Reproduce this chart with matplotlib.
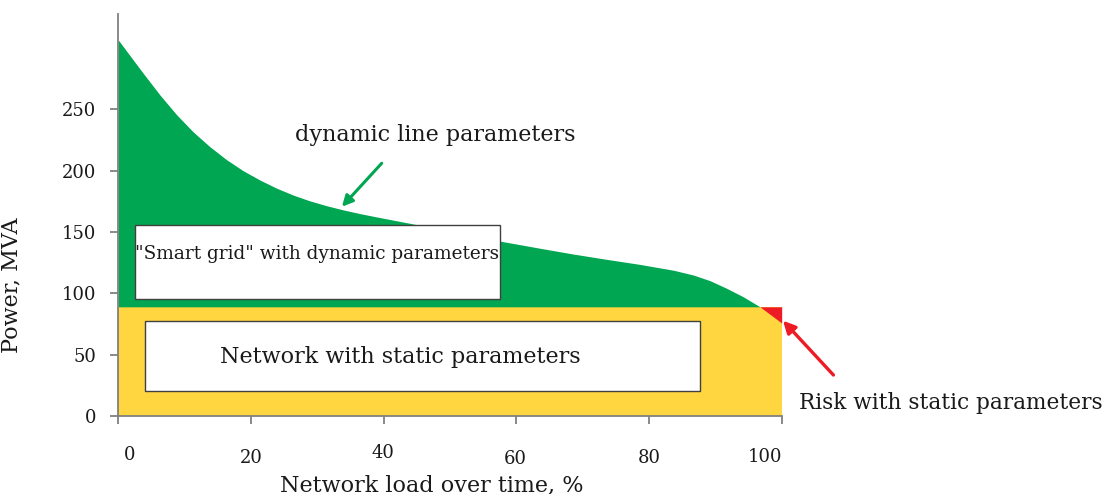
import numpy as np
import matplotlib
matplotlib.use("Agg")
import matplotlib.pyplot as plt
from matplotlib.patches import Rectangle
from matplotlib.transforms import ScaledTranslation

# ---- data ----
load_pct = [0, 1.3, 3.8, 6.3, 8.8, 11.3, 13.8, 16.3, 18.8, 21.4, 23.9, 26.4,
            28.9, 31.4, 33.9, 36.4, 38.9, 41.5, 44.0, 50.8, 57.5, 63.6,
            68.6, 73.6, 78.6, 83.7, 86.7, 89.2, 91.7, 94.2, 96.7, 100]
dyn_power = [306.5, 297.0, 279.0, 261.5, 245.5, 231.5, 219.5, 209.0, 200.0,
             192.2, 185.6, 180.0, 175.3, 171.4, 168.0, 165.0, 162.3, 159.6,
             157.0, 149.5, 142.6, 136.7, 132.0, 127.7, 123.6, 118.8, 114.9,
             110.3, 104.1, 97.2, 89.1, 75.8]
static_power = 89.0

x_ticks = [0, 20, 40, 60, 80, 100]
y_ticks = [0, 50, 100, 150, 200, 250]
# small offsets of the tick labels as they sit in the source figure (px, +down)
tick_dx = [11.7, 0.7, -0.6, -0.7, 0.0, -16.7]
tick_dy = [-1.9, 1.5, -3.5, 2.3, 1.5, -0.2]

GREEN = "#00A651"
YELLOW = "#FFD540"
RED = "#ED1C24"
GREY = "#808080"
TXT = "#1a1a1a"

plt.rcParams["font.family"] = ["DejaVu Serif"]

fig = plt.figure(figsize=(11.05, 4.94), dpi=100)
ax = fig.add_axes([0.1071, 0.1579, 0.6003, 0.8138])

x = np.array(load_pct)
y = np.array(dyn_power)
st = np.full_like(x, static_power)

ax.fill_between(x, 0, static_power, color=YELLOW, lw=0)
ax.fill_between(x, st, y, where=y >= st, interpolate=True, color=GREEN, lw=0)
ax.fill_between(x, y, st, where=y < st, interpolate=True, color=RED, lw=0)

ax.set_xlim(0, 100)
ax.set_ylim(0, 327.7)

# text boxes
ax.add_patch(Rectangle((2.5, 95.1), 55.0, 60.6, facecolor="white",
                       edgecolor="#404040", lw=1.0, zorder=3))
ax.text(30.0, 132.0, '"Smart grid" with dynamic parameters', ha="center",
        va="center", fontsize=13.3, color=TXT, zorder=4)
ax.add_patch(Rectangle((4.0, 20.4), 83.7, 57.0, facecolor="white",
                       edgecolor="#404040", lw=1.0, zorder=3))
ax.text(42.5, 48.1, "Network with static parameters", ha="center",
        va="center", fontsize=16, color=TXT, zorder=4)

ax.text(47.7, 229, "dynamic line parameters", ha="center", va="center",
        fontsize=16, color=TXT)
ax.annotate("", xy=(33.7, 170.6), xytext=(39.7, 206),
            arrowprops=dict(arrowstyle="-|>", color=GREEN, lw=2.2,
                            mutation_scale=16, shrinkA=0, shrinkB=0))
ax.annotate("", xy=(100.2, 77.7), xytext=(107.8, 33.4),
            arrowprops=dict(arrowstyle="-|>", color=RED, lw=2.4,
                            mutation_scale=18, shrinkA=0, shrinkB=0),
            annotation_clip=False)
ax.text(125.5, 10.6, "Risk with static parameters", ha="center",
        va="center", fontsize=15.6, color=TXT, clip_on=False)

# axes styling
for s in ["top", "right"]:
    ax.spines[s].set_visible(False)
for s in ["left", "bottom"]:
    ax.spines[s].set_color(GREY)
    ax.spines[s].set_linewidth(1.3)

ax.set_xticks(x_ticks)
ax.set_yticks(y_ticks)
ax.tick_params(axis="both", colors=GREY, length=6, width=1.3,
               labelcolor=TXT, labelsize=13)
ax.tick_params(axis="y", pad=10)
ax.tick_params(axis="x", pad=17)

for lab, dx, dy in zip(ax.get_xticklabels(), tick_dx, tick_dy):
    lab.set_transform(lab.get_transform() +
                      ScaledTranslation(dx / 100, -dy / 100, fig.dpi_scale_trans))

ax.set_xlabel("Network load over time, %", fontsize=16, color=TXT)
ax.xaxis.set_label_coords(0.472, -0.187)
ax.xaxis.label.set_verticalalignment("baseline")
ax.set_ylabel("Power, MVA", fontsize=16, color=TXT)
ax.yaxis.set_label_coords(-0.145, 0.325)

fig.savefig("out.png", dpi=100)
